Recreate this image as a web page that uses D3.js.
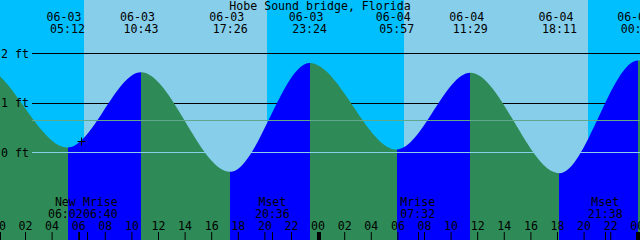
<!DOCTYPE html>
<html><head><meta charset="utf-8">
<script src="https://cdn.jsdelivr.net/npm/d3@7"></script>
<style>
html,body{margin:0;padding:0;overflow:hidden;background:#fff}
svg{display:block}
text{font-family:"DejaVu Sans Mono",monospace;font-size:11.6px;fill:#000}
</style></head><body>
<svg id="c" width="640" height="240"></svg>
<script>
// ---- data ----
const title = "Hobe Sound bridge, Florida";
const tideTimes   = ["06-02 16:50","06-02 22:40","06-03 05:12","06-03 10:43","06-03 17:26","06-03 23:24","06-04 05:57","06-04 11:29","06-04 18:11","06-05 00:06","06-05 06:40"];
const tideHeights = [-0.35, 1.75, 0.10, 1.62, -0.39, 1.81, 0.06, 1.61, -0.42, 1.86, 0.08];
const sunTimes  = ["06-03 06:26","06-03 20:10","06-04 06:30","06-04 20:21"]; // rise, set, rise, set
const moonTimes  = ["06-03 06:02","06-03 06:40","06-03 20:36","06-04 07:32","06-04 21:38"];
const moonLabels = ["New","Mrise","Mset","Mrise","Mset"];
const heightTicks = [0, 1, 2];
const heightTickLabels = ["0 ft","1 ft","2 ft"];
const meanSeaLevel = 0.646;
const hourTicks = [0,2,4,6,8,10,12,14,16,18,20,22,24,26,28,30,32,34,36,38,40,42,44,46,48];
const hourTickLabels = ["00","02","04","06","08","10","12","14","16","18","20","22","00","02","04","06","08","10","12","14","16","18","20","22","00"];
const nowTime = "06-03 06:14";
const timeDomain = ["06-03 00:07","06-05 00:14"];

// ---- helpers ----
const hrs = s => (+s.slice(3,5) - 3) * 24 + +s.slice(6,8) + +s.slice(9,11) / 60;
const W = 640, H = 240;
const C = {day:"#87CEEB", night:"#00BFFF", flood:"#0000FF", ebb:"#2E8B57", datum:"#87CEEB", msl:"#5FA88C"};

const x = d3.scaleLinear().domain([hrs(timeDomain[0]) + 0.003, hrs(timeDomain[1]) + 0.008]).range([0, W]);
const y = d3.scaleLinear().domain([0, 2]).range([152.5, 53.5]);

const svg = d3.select("#c");

// sky
svg.append("rect").attr("width", W).attr("height", H).attr("fill", C.day);
const sun = sunTimes.map(hrs);
const nights = [[x.domain()[0] - 1, sun[0]], [sun[1], sun[2]], [sun[3], x.domain()[1] + 1]];
svg.selectAll("rect.night").data(nights).join("rect").attr("class", "night")
  .attr("x", d => Math.round(x(d[0]))).attr("y", 0)
  .attr("width", d => Math.round(x(d[1])) - Math.round(x(d[0]))).attr("height", H)
  .attr("fill", C.night);

// depth lines (behind tide)
svg.selectAll("line.grid").data(heightTicks.filter(v => v > 0)).join("line").attr("class", "grid")
  .attr("x1", 32).attr("x2", W).attr("y1", d => Math.floor(y(d)) + 0.5).attr("y2", d => Math.floor(y(d)) + 0.5)
  .attr("stroke", "#000").attr("stroke-width", 1);

// tide
const pts = tideTimes.map((t, i) => ({t: hrs(t), v: tideHeights[i]}));
const area = d3.area().x(d => x(d.t)).y0(H).y1(d => y(d.v)).curve(d3.curveMonotoneX);
svg.append("clipPath").attr("id", "tide").append("path").attr("d", area(pts));
const segs = d3.pairs(pts);
svg.append("g").attr("clip-path", "url(#tide)")
  .selectAll("rect").data(segs).join("rect")
  .attr("x", d => x(d[0].t)).attr("y", 0)
  .attr("width", d => x(d[1].t) - x(d[0].t)).attr("height", H)
  .attr("fill", d => d[1].v > d[0].v ? C.flood : C.ebb)
  .attr("shape-rendering", "crispEdges");

// datum & msl lines
svg.append("line").attr("x1", 32).attr("x2", W)
  .attr("y1", Math.floor(y(0)) + 0.5).attr("y2", Math.floor(y(0)) + 0.5)
  .attr("stroke", C.datum).attr("stroke-width", 1);
svg.append("line").attr("x1", 32).attr("x2", W)
  .attr("y1", Math.floor(y(meanSeaLevel)) + 0.5).attr("y2", Math.floor(y(meanSeaLevel)) + 0.5)
  .attr("stroke", C.msl).attr("stroke-width", 1);

// y axis labels
const ya = svg.append("g").attr("transform", "translate(32,0)")
  .call(d3.axisLeft(y).tickValues(heightTicks).tickFormat((d, i) => heightTickLabels[i]).tickSize(0).tickPadding(3));
ya.select(".domain").remove();

// title
svg.append("text").attr("x", W / 2).attr("y", 10).attr("text-anchor", "middle").text(title);

// tide event labels
const ev = tideTimes.map((t, i) => ({s: t, t: hrs(t)})).filter(d => x(d.t) >= 0 && x(d.t) <= W + 5);
const tl = svg.append("g").selectAll("g").data(ev).join("g");
tl.append("text").attr("x", d => x(d.t) - 3.5).attr("y", 21).attr("text-anchor", "middle").text(d => d.s.slice(0, 5));
tl.append("text").attr("x", d => x(d.t)).attr("y", 33).attr("text-anchor", "middle").text(d => d.s.slice(6));

// hour axis
const xa = svg.append("g").attr("transform", `translate(0,${H})`)
  .call(d3.axisTop(x).tickValues(hourTicks).tickFormat((d, i) => hourTickLabels[i]).tickSize(8).tickPadding(2));
xa.select(".domain").remove();
xa.selectAll("line").attr("stroke", "#000");
svg.selectAll("rect.mid").data(hourTicks.filter(h => h % 24 === 0)).join("rect").attr("class", "mid")
  .attr("x", d => Math.round(x(d)) - 1).attr("y", 232).attr("width", 4).attr("height", 8).attr("fill", "#000");

// moon events
const moon = moonTimes.map((t, i) => ({t: hrs(t), s: t.slice(6), name: moonLabels[i]}));
moon.forEach(d => { d.cx = x(d.t); });
const bw = 35;
for (let i = 1; i < moon.length; i++) {
  const a = moon[i - 1], b = moon[i];
  if (b.cx - a.cx < bw) { const m = (a.cx + b.cx) / 2; a.cx = m - bw / 2; b.cx = m + bw / 2; }
}
svg.selectAll("line.moon").data(moon).join("line").attr("class", "moon")
  .attr("x1", d => Math.round(x(d.t)) + 0.5).attr("x2", d => Math.round(x(d.t)) + 0.5)
  .attr("y1", 232).attr("y2", H).attr("stroke", "#000");
const ml = svg.append("g").selectAll("g").data(moon).join("g");
ml.append("text").attr("x", d => d.cx).attr("y", 206).attr("text-anchor", "middle").text(d => d.name);
ml.append("text").attr("x", d => d.cx).attr("y", 218).attr("text-anchor", "middle").text(d => d.s);

// "now" mark on the curve
const nt = hrs(nowTime);
const k = pts.findIndex(p => p.t > nt);
const p0 = pts[k - 1], p1 = pts[k];
const u = (nt - p0.t) / (p1.t - p0.t);
const nv = p0.v + (p1.v - p0.v) * (3 * u * u - 2 * u * u * u);
const cx = Math.round(x(nt)) + 0.5, cy = Math.round(y(nv)) + 0.5;
svg.append("path").attr("d", `M${cx - 4},${cy}H${cx + 4}M${cx},${cy - 4}V${cy + 4}`)
  .attr("stroke", "#000").attr("stroke-width", 1).attr("fill", "none");
</script>
</body></html>
